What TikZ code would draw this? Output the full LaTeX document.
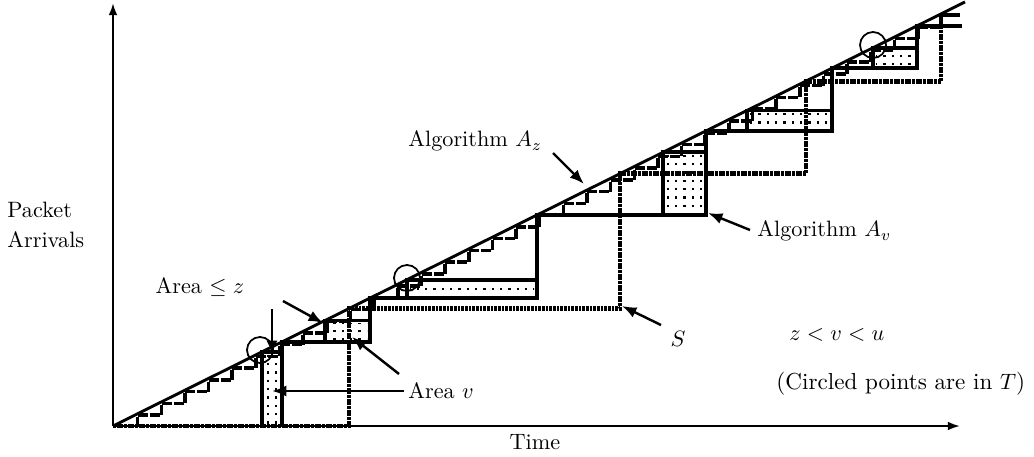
\documentclass[tikz,border=0pt]{standalone}
\usetikzlibrary{arrows.meta,patterns}
\pgfdeclarepatternformonly{bigdots}{\pgfqpoint{-1pt}{-1pt}}{\pgfqpoint{2pt}{2pt}}{\pgfqpoint{3.75pt}{3.75pt}}{%
  \pgfpathrectangle{\pgfqpoint{0pt}{0pt}}{\pgfqpoint{1.1pt}{1.1pt}}\pgfusepath{fill}}
\tikzset{
  axisline/.style={line width=1pt,-{Latex[length=5.5pt,width=4pt]}},
  diagline/.style={line width=1.3pt},
  avline/.style={line width=1.7pt,line join=miter},
  azstep/.style={line width=1.6pt,dash pattern=on 4.5pt off 0.9pt},
  sline/.style={line width=2.2pt,dash pattern=on 1.3pt off 0.35pt},
  dotsfill/.style={pattern=bigdots},
  ptr/.style={line width=1.1pt,-{Latex[length=6.5pt,width=5pt]}},
  lbl/.style={inner sep=0pt,font=\normalsize},
  ring/.style={draw,circle,line width=0.8pt,minimum size=11.7pt,inner sep=0pt},
}
\begin{document}
\begin{tikzpicture}[x=0.45pt,y=-0.45pt,declare function={f(\x)=426-0.4977*(\x-113);}]
\useasboundingbox (0,0) rectangle (1034,457);
% dotted areas
\foreach \a/\b/\c in {262/282/426, 325/370/341.9, 407/537/298.1, 663/706/215, 747/832/130.9, 873/917/68.1}
  \fill[dotsfill] (\a+3,{f(\a)+3}) rectangle (\b-3,\c-2);
% algorithm A_z (fine staircase)
\foreach \k in {1,...,34}{
  \pgfmathsetmacro\xp{114+23.65*(\k-1)}
  \pgfmathsetmacro\xa{114+23.65*\k}
  \pgfmathsetmacro\xn{114+23.65*(\k+1)}
  \draw[azstep] (\xa,{f(\xp)+1.5}) -- (\xa,{f(\xa)+1.5}) -- (\xn,{f(\xa)+1.5});
}
% box edges
\foreach \a/\b/\c in {262/282/426, 325/370/341.9, 407/537/298.1, 663/706/215, 747/832/130.9, 873/917/68.1}
  \draw[avline] (\a,\c) |- (\b,{f(\a)});
% algorithm A_v
\draw[avline] (282,426) -- (282,{f(282)}) -- (370,{f(282)}) -- (370,{f(370)})
  -- (537,{f(370)}) -- (537,{f(537)}) -- (706,{f(537)}) -- (706,{f(706)})
  -- (832,{f(706)}) -- (832,{f(832)}) -- (917,{f(832)}) -- (917,{f(917)}) -- (962,{f(917)});
% axes
\coordinate (O) at (113,426);
\coordinate (ytop) at (113,3);
\coordinate (xend) at (960,426);
\draw[axisline] (O) -- (ytop);
\draw[axisline] (O) -- (xend);
% schedule S
\draw[sline] (O) -- (349,426) -- (349,{f(349)}) -- (620,{f(349)}) -- (620,{f(620)})
  -- (806,{f(620)}) -- (806,{f(806)}) -- (941,{f(806)}) -- (941,25);
\draw[avline] (941,25) -- (941,{f(941)+1}) -- (960,{f(941)+1});
% arrival line
\coordinate (dtop) at (965,{f(965)});
\draw[diagline] (O) -- (dtop);
% circled points
\node[ring] (c1) at (260,350) {};
\node[ring] (c2) at (407,278) {};
\node[ring] (c3) at (873,45) {};
% labels
\node[lbl,anchor=west] (pa) at (7,210) {Packet};
\node[lbl,anchor=west] (ar) at (7,240) {Arrivals};
\node[lbl] (az) at (200,287) {Area $\leq z$};
\node[lbl,anchor=west] (av) at (408,391) {Area $v$};
\node[lbl,anchor=west] (alz) at (408,141) {Algorithm $A_z$};
\node[lbl,anchor=west] (alv) at (757,231) {Algorithm $A_v$};
\node[lbl] (s) at (678,339) {$S$};
\node[lbl,anchor=west] (zvu) at (789,335) {$z<v<u$};
\node[lbl,anchor=west,font=\fontsize{10.4}{12}\selectfont] (cp) at (776,384) {(Circled points are in $T$)};
\node[lbl] (tm) at (535,442) {Time};
% pointers
\coordinate (a1s) at (272,309); \coordinate (a1e) at (272,355);
\coordinate (a2s) at (283,301); \coordinate (a2e) at (323,323);
\coordinate (a3s) at (404,391); \coordinate (a3e) at (272,391);
\coordinate (a4s) at (399,374); \coordinate (a4e) at (352,337);
\coordinate (a5s) at (553,153); \coordinate (a5e) at (584,184);
\coordinate (a6s) at (750,230); \coordinate (a6e) at (708,213);
\coordinate (a7s) at (661,325); \coordinate (a7e) at (622,306);
\draw[ptr] (a1s) -- (a1e);
\draw[ptr] (a2s) -- (a2e);
\draw[ptr] (a3s) -- (a3e);
\draw[ptr] (a4s) -- (a4e);
\draw[ptr] (a5s) -- (a5e);
\draw[ptr] (a6s) -- (a6e);
\draw[ptr] (a7s) -- (a7e);
\end{tikzpicture}
\end{document}
